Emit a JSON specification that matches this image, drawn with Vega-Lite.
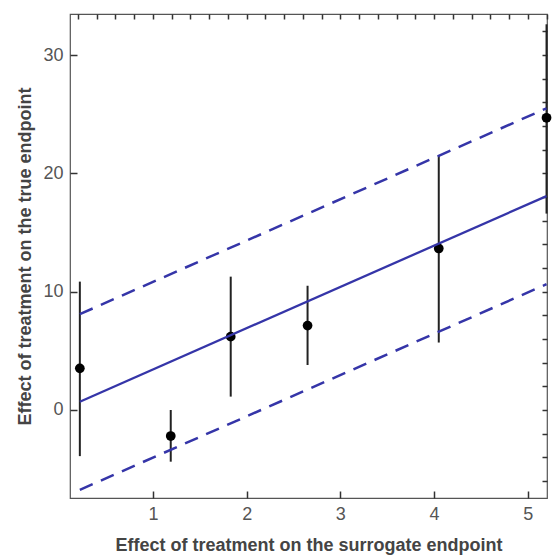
{
  "$schema": "https://vega.github.io/schema/vega-lite/v6.json",
  "autosize": "none",
  "width": 477,
  "height": 484,
  "padding": {"top": 14, "left": 70, "right": 8, "bottom": 57},
  "background": "white",
  "config": {
    "view": {"stroke": "#555555", "strokeWidth": 1.2},
    "axis": {
      "labelFont": "Liberation Sans",
      "labelFontSize": 18,
      "labelColor": "#555555",
      "titleFont": "Liberation Sans",
      "titleFontSize": 18,
      "titleFontWeight": "bold",
      "titleColor": "#444444",
      "domain": false,
      "grid": false
    }
  },
  "datasets": {
    "pts": [
      {"x": 0.22, "y": 3.52, "lo": -3.9, "hi": 10.85},
      {"x": 1.19, "y": -2.2, "lo": -4.37, "hi": 0.0},
      {"x": 1.83, "y": 6.2, "lo": 1.13, "hi": 11.27},
      {"x": 2.65, "y": 7.13, "lo": 3.8, "hi": 10.5},
      {"x": 4.05, "y": 13.65, "lo": 5.7, "hi": 21.5},
      {"x": 5.2, "y": 24.7, "lo": 16.6, "hi": 32.6}
    ],
    "lines": [
      {"x": 0.22, "fit": 0.70, "upper": 8.1, "lower": -6.75},
      {"x": 5.2, "fit": 18.08, "upper": 25.5, "lower": 10.63}
    ]
  },
  "resolve": {"axis": {"x": "independent", "y": "independent"}},
  "layer": [
    {
      "data": {"name": "pts"},
      "mark": {"type": "rule", "color": "#222222", "strokeWidth": 2},
      "encoding": {
        "x": {"field": "x", "type": "quantitative",
          "scale": {"domain": [0.115, 5.205], "nice": false, "zero": false},
          "axis": {"orient": "bottom", "title": "Effect of treatment on the surrogate endpoint",
            "values": [1, 2, 3, 4, 5], "format": "d", "ticks": true, "tickColor": "#333333", "tickWidth": 1.5, "tickSize": -7,
            "labelPadding": 14, "titlePadding": 13}},
        "y": {"field": "lo", "type": "quantitative",
          "scale": {"domain": [-7.44, 33.47], "nice": false, "zero": false},
          "axis": {"orient": "left", "title": "Effect of treatment on the true endpoint",
            "values": [0, 10, 20, 30], "format": "d", "ticks": true, "tickColor": "#333333", "tickWidth": 1.5, "tickSize": -7,
            "labelPadding": 14, "titlePadding": 8}},
        "y2": {"field": "hi"}
      }
    },
    {
      "data": {"name": "pts"},
      "mark": {"type": "point", "filled": true, "color": "#000000", "size": 95, "opacity": 1},
      "encoding": {
        "x": {"field": "x", "type": "quantitative",
          "axis": {"orient": "top", "title": null, "labels": false, "ticks": true,
            "tickColor": "#333333", "tickWidth": 1.5,
            "values": [0.2,0.4,0.6,0.8,1,1.2,1.4,1.6,1.8,2,2.2,2.4,2.6,2.8,3,3.2,3.4,3.6,3.8,4,4.2,4.4,4.6,4.8,5,5.2],
            "tickSize": -5}},
        "y": {"field": "y", "type": "quantitative",
          "axis": {"orient": "right", "title": null, "labels": false, "ticks": true,
            "tickColor": "#333333", "tickWidth": 1.5,
            "values": [-6,-4,-2,0,2,4,6,8,10,12,14,16,18,20,22,24,26,28,30,32],
            "tickSize": -5}}
      }
    },
    {
      "data": {"name": "lines"},
      "mark": {"type": "line", "color": "#3535a8", "strokeWidth": 2.3},
      "encoding": {
        "x": {"field": "x", "type": "quantitative", "axis": null},
        "y": {"field": "fit", "type": "quantitative", "axis": null}
      }
    },
    {
      "data": {"name": "lines"},
      "mark": {"type": "line", "color": "#3535a8", "strokeWidth": 2.5, "strokeDash": [14, 9]},
      "encoding": {
        "x": {"field": "x", "type": "quantitative", "axis": null},
        "y": {"field": "upper", "type": "quantitative", "axis": null}
      }
    },
    {
      "data": {"name": "lines"},
      "mark": {"type": "line", "color": "#3535a8", "strokeWidth": 2.5, "strokeDash": [14, 9]},
      "encoding": {
        "x": {"field": "x", "type": "quantitative", "axis": null},
        "y": {"field": "lower", "type": "quantitative", "axis": null}
      }
    }
  ]
}
